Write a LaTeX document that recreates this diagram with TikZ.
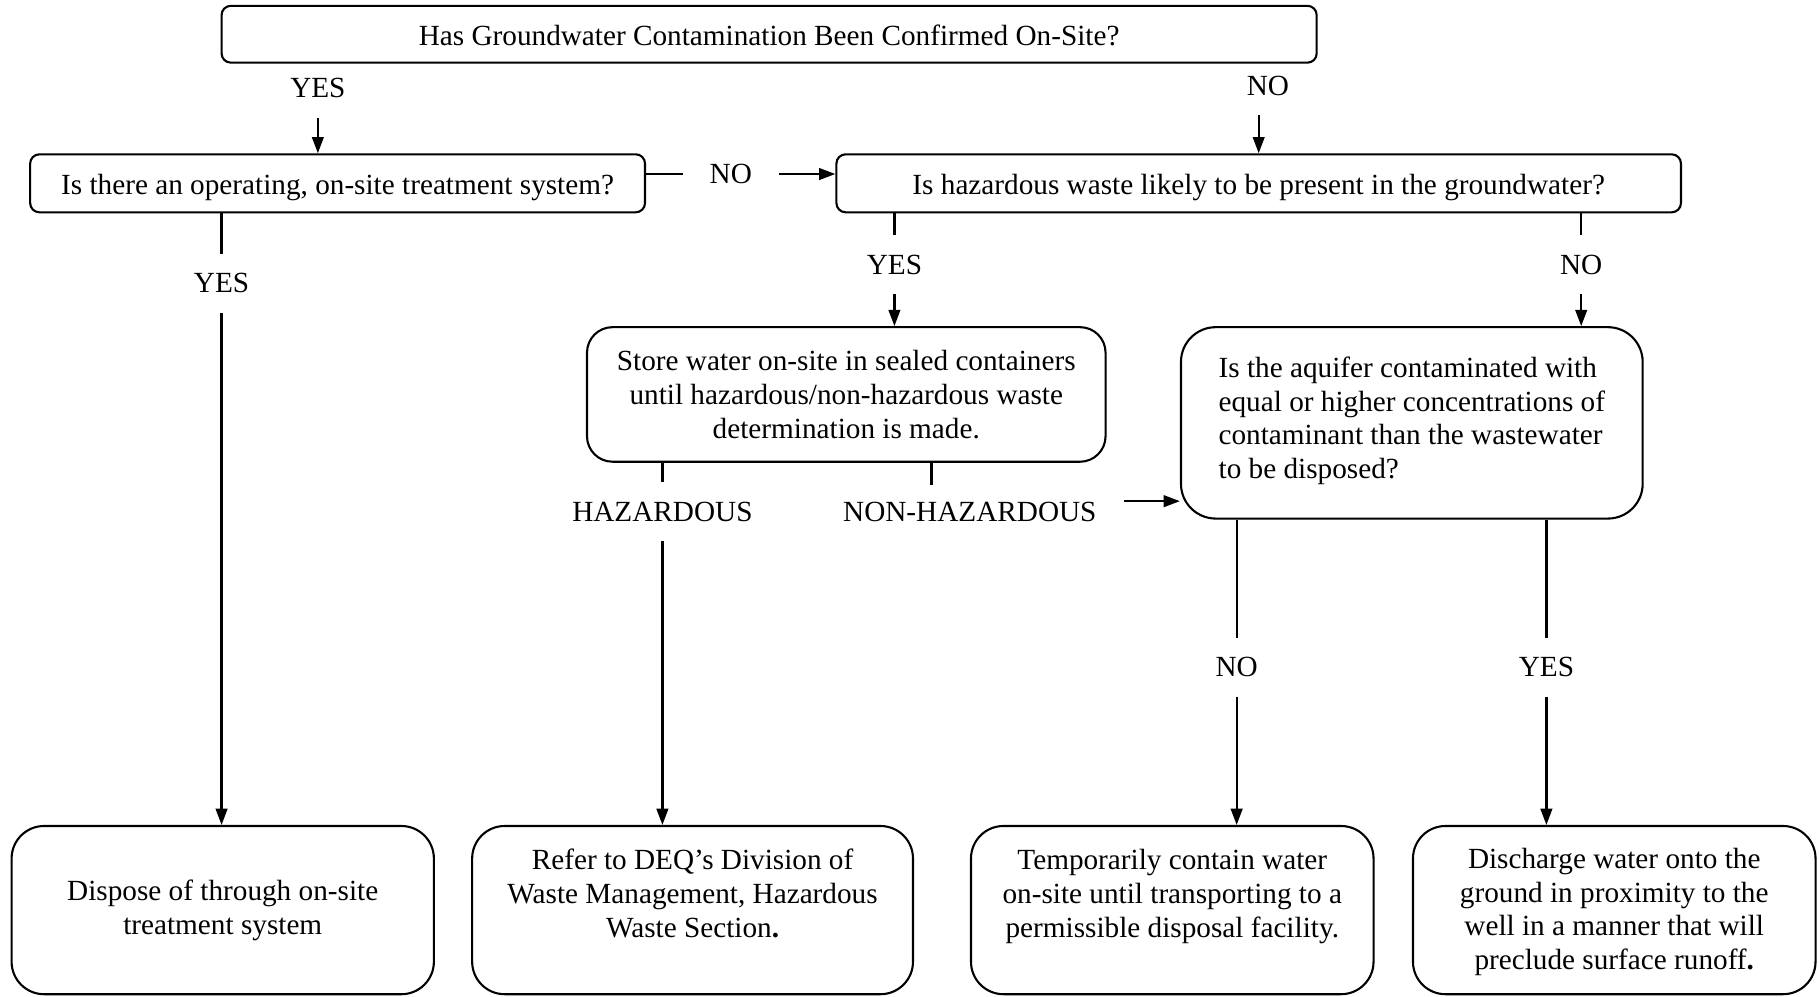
\documentclass[tikz,border=0pt]{standalone}
\usepackage{fontspec}
\setmainfont{Liberation Serif}
\usetikzlibrary{arrows.meta}
\begin{document}
\begin{tikzpicture}[x=0.5pt,y=-0.5pt,
  font=\fontsize{12.6}{14.5}\selectfont,
  box/.style={draw, line width=0.9pt, inner sep=0pt, align=center},
  qbox/.style={box, rounded corners=4pt, minimum height=25pt, text height=12pt, text depth=2pt},
  endbox/.style={box, rounded corners=14pt, minimum height=72.5pt},
  lbl/.style={inner sep=0pt, minimum height=25pt},
  conn/.style={line width=0.95pt},
  arr/.style={conn, -{Triangle[length=7pt,width=5pt]}}]
\useasboundingbox (0,0) rectangle (1568,859);

% decision / action boxes
\node[qbox, minimum width=472pt, minimum height=24.5pt] (A) at (663,29.5)
  {Has Groundwater Contamination Been Confirmed On-Site?};
\node[qbox, minimum width=265pt] (B) at (291,158)
  {Is there an operating, on-site treatment system?};
\node[qbox, minimum width=364pt] (C) at (1085,158)
  {Is hazardous waste likely to be present in the groundwater?};
\node[box, rounded corners=11pt, minimum width=223.5pt, minimum height=58pt] (D) at (729.5,340)
  {Store water on-site in sealed containers\\until hazardous/non-hazardous waste\\determination is made.};
\node[box, rounded corners=15pt, minimum width=199pt, minimum height=82.5pt, align=left] (E) at (1217,364.5)
  {Is the aquifer contaminated with\\equal or higher concentrations of\\contaminant than the wastewater\\to be disposed?\\[-10pt]\mbox{}};
\node[endbox, minimum width=182pt] (F) at (192,784.5)
  {Dispose of through on-site\\treatment system};
\node[endbox, minimum width=190pt] (G) at (597,784.5)
  {Refer to DEQ’s Division of\\Waste Management, Hazardous\\Waste Section\textbf{.}\\\mbox{}};
\node[endbox, minimum width=173.5pt] (H) at (1010.5,784.5)
  {Temporarily contain water\\on-site until transporting to a\\permissible disposal facility.\\\mbox{}};
\node[endbox, minimum width=173.5pt] (I) at (1391.5,784.5)
  {\mbox{}\\[-4pt]Discharge water onto the\\ground in proximity to the\\well in a manner that will\\preclude surface runoff\textbf{.}};

% labels
\node[lbl] (yesA) at (274,76) {YES};
\node[lbl] (noA) at (1093,74) {NO};
\node[lbl, minimum width=41pt] (noB) at (630,150) {NO};
\node[lbl] (yesB) at (191,244) {YES};
\node[lbl] (yesC) at (771,228) {YES};
\node[lbl] (noC) at (1363,228) {NO};
\node[lbl] (haz) at (571,441) {HAZARDOUS};
\node[lbl] (nonhaz) at (836,441) {NON-HAZARDOUS};
\node[lbl] (noE) at (1066,575) {NO};
\node[lbl] (yesE) at (1333,575) {YES};
\coordinate (nhtop) at (803,418);
\coordinate (nhend) at (969,432);

% connectors
\draw[arr] (yesA.south) -- (B.north -| yesA);
\draw[arr] (noA.south -| C.north) -- (C.north);
\draw[conn] (B.east |- noB) -- (noB.west);
\draw[arr] (noB.east) -- (C.west |- noB);
\draw[conn] (B.south -| yesB) -- (yesB.north);
\draw[arr] (yesB.south) -- (F.north -| yesB);
\draw[conn] (C.south -| yesC) -- (yesC.north);
\draw[arr] (yesC.south) -- (D.north -| yesC);
\draw[conn] (C.south -| noC) -- (noC.north);
\draw[arr] (noC.south) -- (E.north -| noC);
\draw[conn] (D.south -| haz) -- (haz.north);
\draw[arr] (haz.south) -- (G.north -| haz);
\draw[conn] (D.south -| nhtop) -- (nhtop);
\draw[arr] (nhend) -- (E.west |- nhend);
\draw[conn] (E.south -| noE) -- (noE.north);
\draw[arr] (noE.south) -- (H.north -| noE);
\draw[conn] (E.south -| yesE) -- (yesE.north);
\draw[arr] (yesE.south) -- (I.north -| yesE);
\end{tikzpicture}
\end{document}
